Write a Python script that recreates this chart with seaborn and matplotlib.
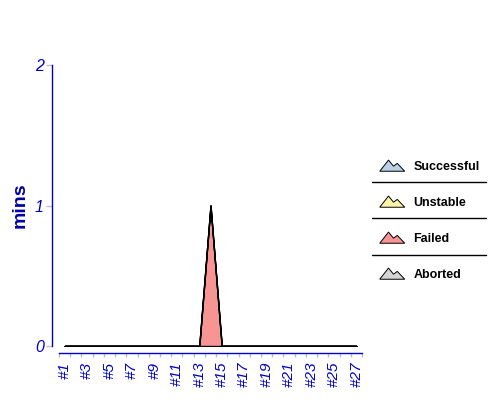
import numpy as np
import matplotlib
matplotlib.use('Agg')
import matplotlib.pyplot as plt
import seaborn as sns
from matplotlib.legend_handler import HandlerBase
from matplotlib.patches import Polygon, Patch
from matplotlib.lines import Line2D

# build time trend (minutes), stacked by build result
BUILDS = ['#1', '#2', '#3', '#4', '#5', '#6', '#7', '#8', '#9', '#10',
          '#11', '#12', '#13', '#14', '#15', '#16', '#17', '#18', '#19', '#20',
          '#21', '#22', '#23', '#24', '#25', '#26', '#27']
SUCCESSFUL = [0, 0, 0, 0, 0, 0, 0, 0, 0, 0, 0, 0, 0, 0, 0, 0, 0, 0, 0, 0, 0, 0, 0, 0, 0, 0, 0]
UNSTABLE = [0, 0, 0, 0, 0, 0, 0, 0, 0, 0, 0, 0, 0, 0, 0, 0, 0, 0, 0, 0, 0, 0, 0, 0, 0, 0, 0]
FAILED = [0, 0, 0, 0, 0, 0, 0, 0, 0, 0, 0, 0, 0, 1, 0, 0, 0, 0, 0, 0, 0, 0, 0, 0, 0, 0, 0]
ABORTED = [0, 0, 0, 0, 0, 0, 0, 0, 0, 0, 0, 0, 0, 0, 0, 0, 0, 0, 0, 0, 0, 0, 0, 0, 0, 0, 0]
SERIES = ['Successful', 'Unstable', 'Failed', 'Aborted']
COLORS = ['#b8cfe7', '#fdf4a7', '#f79494', '#d5d5d5']

BLUE = '#0000cc'
GRAY = '#c0c0c0'


class MountainHandler(HandlerBase):
    def create_artists(self, legend, orig_handle, xdescent, ydescent,
                       width, height, fontsize, trans):
        pts = [(0, 0), (0.35, 1), (0.55, 0.45), (0.7, 0.7), (1, 0)]
        verts = [(-xdescent + px * width, -ydescent + py * height) for px, py in pts]
        p = Polygon(verts, closed=True, facecolor=orig_handle.get_facecolor(),
                    edgecolor='black', lw=0.7, transform=trans)
        return [p]


sns.set_style('white')
plt.rcParams['font.family'] = ['Liberation Sans', 'DejaVu Sans']

fig = plt.figure(figsize=(5, 4), dpi=100)
ax = fig.add_axes([0.118, 0.135, 0.606, 0.7025])

x = np.arange(len(BUILDS))
ax.stackplot(x, SUCCESSFUL, UNSTABLE, FAILED, ABORTED,
             colors=COLORS, edgecolor='black', linewidth=1.0)

ax.set_xlim(-0.5, len(BUILDS) - 0.5)
ax.set_ylim(0, 2)

sns.despine(ax=ax, top=True, right=True)
for side in ['left', 'bottom']:
    ax.spines[side].set_position(('outward', 5))
    ax.spines[side].set_color(BLUE)
    ax.spines[side].set_linewidth(1)

ax.set_yticks([0, 1, 2])
ax.set_yticklabels(['0', '1', '2'], fontstyle='italic', color=BLUE, fontsize=11.5)
ax.tick_params(axis='y', which='major', left=True, length=4, width=1, color=GRAY, pad=2)

ax.set_xticks(x[::2])
ax.set_xticklabels(BUILDS[::2], rotation=90, fontstyle='italic', color=BLUE,
                   fontsize=11, va='top')
ax.set_xticks(np.arange(-0.5, len(BUILDS), 1), minor=True)
ax.tick_params(axis='x', which='major', bottom=True, length=0, pad=6.5)
ax.tick_params(axis='x', which='minor', bottom=True, length=3, width=1, color=GRAY)

ax.set_ylabel('mins', fontsize=14, fontweight='bold', color='#0000aa')
ax.yaxis.set_label_coords(-0.1, 0.5)

handles = [Patch(facecolor=c) for c in COLORS]
fig.legend(handles, SERIES, handler_map={Patch: MountainHandler()},
           loc='upper left', bbox_to_anchor=(0.737, 0.628), frameon=False,
           prop={'weight': 'bold', 'size': 9}, labelcolor='black',
           labelspacing=1.85, handlelength=2.0, handleheight=1.0,
           handletextpad=0.7)

for yy in [181.5, 218, 254.5]:
    fig.add_artist(Line2D([372 / 500, 486 / 500], [1 - yy / 400] * 2,
                          color='black', lw=1))

fig.savefig('out.png', dpi=100)
